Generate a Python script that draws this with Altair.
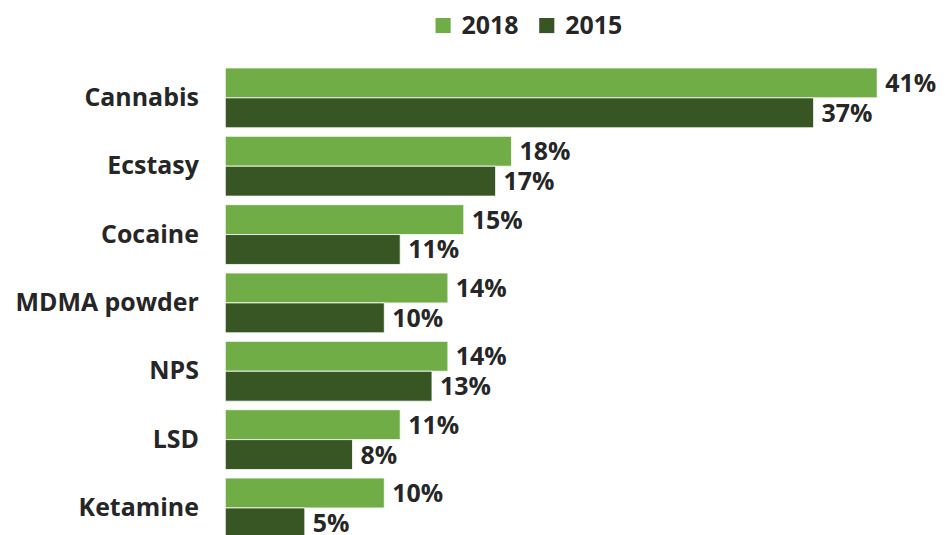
import altair as alt
import pandas as pd

drugs = ["Cannabis", "Ecstasy", "Cocaine", "MDMA powder", "NPS", "LSD", "Ketamine"]
v2018 = [41, 18, 15, 14, 14, 11, 10]
v2015 = [37, 17, 11, 10, 13, 8, 5]
years = ["2018", "2015"]
colors = ["#70AD47", "#375623"]

rows = []
for d, a, b in zip(drugs, v2018, v2015):
    rows.append({"drug": d, "year": "2018", "value": a, "label": f"{a}%"})
    rows.append({"drug": d, "year": "2015", "value": b, "label": f"{b}%"})
df = pd.DataFrame(rows)

FONT = "Open Sans"
TXT = "#262626"

y = alt.Y("drug:N", sort=drugs, title=None,
          scale=alt.Scale(paddingInner=0.125, paddingOuter=0.0625),
          axis=alt.Axis(domain=False, ticks=False, labelPadding=27, labelLimit=400,
                        labelFontSize=25, labelFont=FONT, labelFontWeight="bold",
                        labelColor=TXT))
yoff = alt.YOffset("year:N", sort=years, scale=alt.Scale(paddingInner=0, paddingOuter=0))
x = alt.X("value:Q", title=None, scale=alt.Scale(domain=[0, 41], nice=False),
          axis=None)

bars = alt.Chart(df).mark_bar(stroke="white", strokeWidth=0.8).encode(
    y=y, yOffset=yoff, x=x,
    color=alt.Color("year:N", sort=years,
                    scale=alt.Scale(domain=years, range=colors),
                    legend=alt.Legend(title=None, orient="none", direction="horizontal",
                                      legendX=206, legendY=-51,
                                      symbolType="square", symbolSize=230,
                                      symbolStrokeWidth=0,
                                      labelFontSize=25, labelFont=FONT,
                                      labelFontWeight="bold", labelColor=TXT,
                                      columnPadding=15, labelOffset=6)),
)

text = alt.Chart(df).mark_text(align="left", baseline="middle", dx=8, dy=1,
                               fontSize=25, font=FONT, fontWeight="bold",
                               color=TXT).encode(
    y=y, yOffset=yoff, x=x, text="label:N"
)

chart = alt.layer(bars, text).properties(
    width=654, height=480,
    padding={"left": 6, "right": 0, "top": 4, "bottom": 0},
).configure_view(stroke=None)

chart.save("out.html", embed_options={"renderer": "svg", "actions": False})
